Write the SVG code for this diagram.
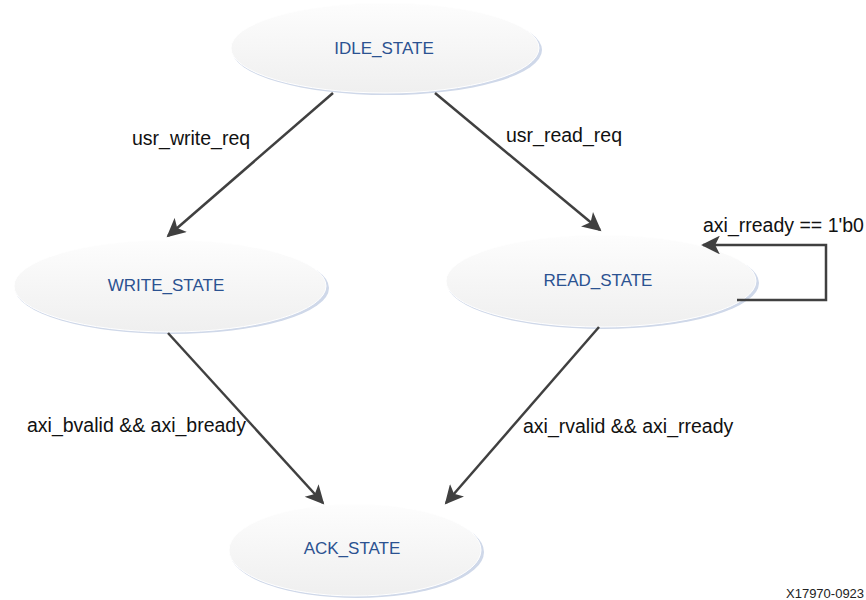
<svg xmlns="http://www.w3.org/2000/svg" width="866" height="600" viewBox="0 0 866 600">
<style>
.shadow{fill:#cfd8e9}
.body{fill:url(#g);stroke:#ffffff;stroke-width:1}
.st{font-family:"Liberation Sans",Arial,sans-serif;font-size:17px;fill:#2b5291;text-anchor:middle}
.lbl{font-family:"Liberation Sans",Arial,sans-serif;font-size:19.5px;fill:#111111}
.conn{stroke:#404040;stroke-width:2.5;fill:none;marker-end:url(#ah)}
.fig{font-family:"Liberation Sans",Arial,sans-serif;font-size:13px;fill:#222222}
</style>
<defs>
<linearGradient id="g" x1="0" y1="0" x2="0" y2="1">
<stop offset="0" stop-color="#fdfdfd"/>
<stop offset="1" stop-color="#efefef"/>
</linearGradient>
<marker id="ah" viewBox="0 0 10 10" refX="9" refY="5" markerWidth="8" markerHeight="7.5" markerUnits="strokeWidth" orient="auto">
<path d="M0,0 L10,5 L0,10 L2.5,5 Z" fill="#404040"/>
</marker>
</defs>
<rect width="866" height="600" fill="#ffffff"/>
<g id="idle">
<ellipse class="shadow" cx="387" cy="50" rx="155" ry="45"/>
<ellipse class="body" cx="385" cy="48" rx="154" ry="45"/>
<text class="st" x="384" y="54">IDLE_STATE</text>
</g>
<g id="write">
<ellipse class="shadow" cx="172" cy="288" rx="157" ry="46"/>
<ellipse class="body" cx="170" cy="286" rx="156" ry="46"/>
<text class="st" x="166" y="291">WRITE_STATE</text>
</g>
<g id="read">
<ellipse class="shadow" cx="603" cy="283" rx="156" ry="46"/>
<ellipse class="body" cx="601" cy="281" rx="155" ry="46"/>
<text class="st" x="598" y="286">READ_STATE</text>
</g>
<g id="ack">
<ellipse class="shadow" cx="357" cy="552" rx="127" ry="46"/>
<ellipse class="body" cx="355" cy="550" rx="126" ry="46"/>
<text class="st" x="352" y="554">ACK_STATE</text>
</g>
<g id="connectors">
<path class="conn" d="M333,93 L168,236"/>
<path class="conn" d="M435,93 L600,230"/>
<path class="conn" d="M168,333 L323,503"/>
<path class="conn" d="M599,327 L446,503"/>
<path class="conn" d="M737,300 L826,300 L826,245 L703,245"/>
</g>
<g id="labels">
<text class="lbl" x="132" y="145">usr_write_req</text>
<text class="lbl" x="506" y="142">usr_read_req</text>
<text class="lbl" x="703" y="232">axi_rready == 1'b0</text>
<text class="lbl" x="27" y="432">axi_bvalid &amp;&amp; axi_bready</text>
<text class="lbl" x="523" y="433">axi_rvalid &amp;&amp; axi_rready</text>
</g>
<text class="fig" x="786" y="598">X17970-0923</text>
</svg>
